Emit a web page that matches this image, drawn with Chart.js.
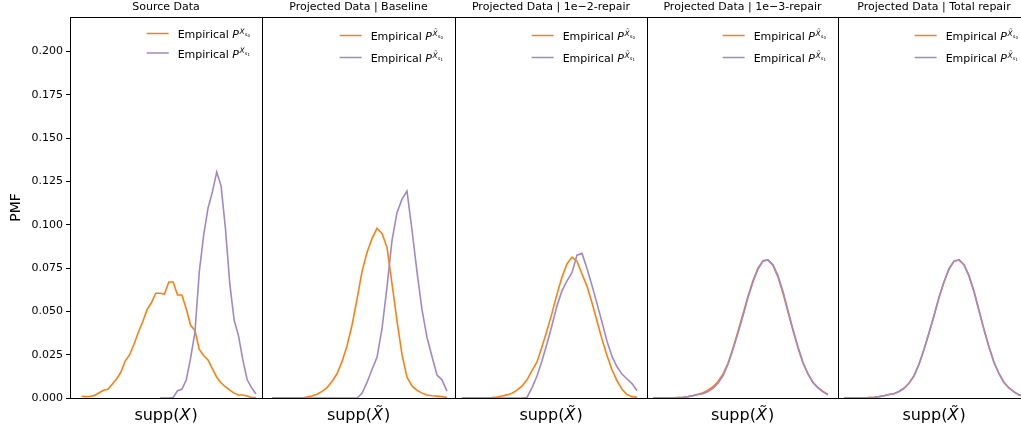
<!DOCTYPE html>
<html>
<head>
<meta charset="utf-8">
<script src="https://cdn.jsdelivr.net/npm/chart.js@4.4.1/dist/chart.umd.min.js"></script>
<style>
    html, body { margin: 0; padding: 0; background: #fff; overflow: hidden; width: 1021px; height: 427px; }
    canvas { position: absolute; left: 0; top: 0; }
</style>
</head>
<body>
<div id="wrap"></div>
<script>
// ===== data =====
const panelTitles = ['Source Data', 'Projected Data | Baseline', 'Projected Data | 1e\u22122-repair',
    'Projected Data | 1e\u22123-repair', 'Projected Data | Total repair'];
const yTicks = [0, 0.025, 0.05, 0.075, 0.1, 0.125, 0.15, 0.175, 0.2];
const yMax = 0.22;

// support range of each panel (bin units) and first bin of each series
const suppMax = [44.1, 38.6, 38.4, 38.2, 38.4];
const startS0 = [2.7, 2.0, 1.4, 1.2, 1.2];
const startS1 = [20.7, 2.0, 1.4, 1.2, 1.2];

const srcS0 = [0.001, 0.0008, 0.001, 0.0015, 0.003, 0.0045, 0.005, 0.008, 0.011, 0.015, 0.0215, 0.025, 0.031,
    0.038, 0.044, 0.051, 0.055, 0.0605, 0.0605, 0.060, 0.067, 0.067, 0.0595, 0.0595, 0.0515, 0.042, 0.039,
    0.028, 0.0245, 0.022, 0.017, 0.012, 0.0088, 0.0065, 0.0045, 0.0028, 0.0017, 0.0017, 0.0012, 0.0003, 0.0002];
const srcS1 = [0, 0, 0, 0.0003, 0.0042, 0.005, 0.0104, 0.023, 0.038, 0.073, 0.094, 0.1096, 0.119, 0.1305,
    0.1225, 0.098, 0.066, 0.045, 0.036, 0.022, 0.0105, 0.006, 0.0025];

const baseS0 = [0, 0, 0, 0, 0, 0, 0, 0.0005, 0.0012, 0.0022, 0.0038, 0.006, 0.0095, 0.014, 0.021, 0.03, 0.042,
    0.057, 0.073, 0.084, 0.092, 0.098, 0.095, 0.087, 0.066, 0.0445, 0.025, 0.012, 0.007, 0.0045, 0.0028, 0.0017,
    0.0013, 0.0011, 0.0008, 0.0003];
const baseS1 = [0, 0, 0, 0, 0, 0, 0, 0, 0, 0, 0, 0, 0, 0, 0, 0, 0, 0, 0.0027, 0.009, 0.0165, 0.0235, 0.04,
    0.064, 0.091, 0.107, 0.1148, 0.1195, 0.097, 0.0728, 0.051, 0.035, 0.024, 0.0133, 0.0105, 0.004];

const rep2S0 = [0, 0, 0, 0, 0, 0, 0.0002, 0.0005, 0.0012, 0.0018, 0.0028, 0.0045, 0.0068, 0.0105, 0.0158,
    0.0208, 0.0296, 0.039, 0.049, 0.060, 0.0698, 0.0775, 0.0813, 0.079, 0.0716, 0.0646, 0.055, 0.0445, 0.034,
    0.0246, 0.0163, 0.0101, 0.005, 0.002, 0.0008, 0.0004];
const rep2S1 = [0, 0, 0, 0, 0, 0, 0, 0, 0, 0, 0, 0, 0, 0.0003, 0.006, 0.0127, 0.0215, 0.0313, 0.042, 0.0533,
    0.062, 0.0676, 0.0724, 0.0825, 0.0835, 0.0748, 0.065, 0.0545, 0.0437, 0.0328, 0.024, 0.018, 0.0138, 0.011,
    0.0083, 0.0042];

const rep3S0 = [0, 0, 0, 0, 0, 0.0002, 0.0004, 0.0008, 0.0014, 0.0021, 0.003, 0.0045, 0.0065, 0.0095, 0.0138,
    0.02, 0.0288, 0.0385, 0.0485, 0.0588, 0.0678, 0.075, 0.0793, 0.0797, 0.0765, 0.0698, 0.0605, 0.0497, 0.039,
    0.029, 0.0202, 0.0138, 0.009, 0.006, 0.0038, 0.002];
const rep3S1 = [0, 0, 0, 0, 0, 0.0002, 0.0004, 0.0008, 0.0013, 0.002, 0.0025, 0.0038, 0.0056, 0.0085, 0.0128,
    0.0195, 0.028, 0.0375, 0.0475, 0.058, 0.067, 0.0745, 0.079, 0.0798, 0.077, 0.0705, 0.0615, 0.0505, 0.0395,
    0.0295, 0.0205, 0.014, 0.009, 0.0058, 0.0035, 0.0018];

const totS0 = [0, 0, 0, 0, 0, 0.0002, 0.0004, 0.0008, 0.0013, 0.002, 0.0025, 0.0038, 0.0056, 0.0085, 0.0128,
    0.0195, 0.028, 0.0375, 0.0475, 0.058, 0.067, 0.0745, 0.079, 0.0798, 0.077, 0.0705, 0.0615, 0.0505, 0.0395,
    0.0295, 0.0205, 0.014, 0.009, 0.0058, 0.0035, 0.0018, 0.0012];
const totS1 = [0, 0, 0, 0, 0, 0.0002, 0.0004, 0.0008, 0.0013, 0.002, 0.0025, 0.0038, 0.0056, 0.0085, 0.0128,
    0.0195, 0.028, 0.0375, 0.0475, 0.058, 0.067, 0.0745, 0.079, 0.0798, 0.077, 0.0705, 0.0615, 0.0505, 0.0395,
    0.0295, 0.0205, 0.014, 0.009, 0.0058, 0.0035, 0.0018, 0.0012];

const seriesS0 = [srcS0, baseS0, rep2S0, rep3S0, totS0];
const seriesS1 = [srcS1, baseS1, rep2S1, rep3S1, totS1];

// ===== layout / style =====
const W = 1040, H = 427;
const edges = [70, 262, 455, 647, 838, 1030];
const FONT = "'DejaVu Sans', sans-serif";
const ORANGE = '#ff7f0e';
const PURPLE = '#9f88cb';

function drawParts(ctx, parts, x, y) {
    parts.forEach(p => {
        ctx.font = p.f;
        ctx.fillText(p.t, x + (p.dx || 0), y + p.dy);
        x += ctx.measureText(p.t).width + (p.dx || 0);
    });
}

function partsWidth(ctx, parts) {
    let w = 0;
    parts.forEach(p => { ctx.font = p.f; w += ctx.measureText(p.t).width + (p.dx || 0); });
    return w;
}

const decor = {
    id: 'decor',
    afterDraw(chart, args, o) {
        const { ctx, chartArea: a } = chart;
        const tilde = o.idx > 0;
        ctx.save();

        // frame
        ctx.strokeStyle = '#000';
        ctx.lineWidth = 1;
        ctx.strokeRect(Math.round(a.left) + 0.5, Math.round(a.top) + 0.5,
            Math.round(a.right - a.left), Math.round(a.bottom - a.top));

        ctx.fillStyle = '#000';
        ctx.textBaseline = 'alphabetic';
        const cx = (a.left + a.right) / 2;

        // title
        ctx.font = `11px ${FONT}`;
        ctx.textAlign = 'center';
        ctx.fillText(o.title, cx, 10);

        // legend
        ctx.textAlign = 'left';
        const rows = tilde ? [35.5, 57.5] : [33.5, 53];
        [[ORANGE, '0'], [PURPLE, '1']].forEach(([col, sub], k) => {
            const ly = rows[k];
            const parts = [
                { t: 'Empirical ', f: `11px ${FONT}`, dy: 0 },
                { t: 'P', f: `italic 11px ${FONT}`, dy: 0 },
                { t: tilde ? 'X\u0303' : 'X', f: `italic 7.5px ${FONT}`, dy: -4.5, dx: 0.5 },
                { t: 's', f: `italic 5px ${FONT}`, dy: -2.5, dx: 0.3 },
                { t: sub, f: `4px ${FONT}`, dy: -1.5 }
            ];
            const tw = partsWidth(ctx, parts);
            const tx = a.right - 12 - tw;
            ctx.strokeStyle = col;
            ctx.lineWidth = 1.5;
            ctx.beginPath();
            ctx.moveTo(tx - 31, ly);
            ctx.lineTo(tx - 9, ly);
            ctx.stroke();
            ctx.fillStyle = '#000';
            drawParts(ctx, parts, tx, ly + 4.5);
        });

        // x label
        const lab = [
            { t: 'supp(', f: `16px ${FONT}`, dy: 0 },
            { t: tilde ? 'X\u0303' : 'X', f: `italic 16px ${FONT}`, dy: 0 },
            { t: ')', f: `16px ${FONT}`, dy: 0, dx: 1 }
        ];
        const lw = partsWidth(ctx, lab);
        drawParts(ctx, lab, cx - lw / 2, 420);
        ctx.restore();
    }
};

const wrap = document.getElementById('wrap');

panelTitles.forEach((title, i) => {
    const canvas = document.createElement('canvas');
    canvas.width = W;
    canvas.height = H;
    wrap.appendChild(canvas);

    const s0 = seriesS0[i].map((v, k) => ({ x: startS0[i] + k, y: v }));
    const s1 = seriesS1[i].map((v, k) => ({ x: startS1[i] + k, y: v }));

    const yScale = {
        display: i === 0,
        min: 0,
        max: yMax,
        afterBuildTicks: s => { s.ticks = yTicks.map(v => ({ value: v })); },
        ticks: {
            callback: v => Number(v).toFixed(3),
            font: { family: FONT, size: 11 },
            color: '#000',
            padding: 3
        },
        grid: { drawOnChartArea: false, tickLength: 4, color: '#000' },
        border: { display: false },
        title: {
            display: true,
            text: 'PMF',
            font: { family: FONT, size: 14 },
            color: '#000',
            padding: { top: 8, bottom: 0 }
        }
    };
    if (i === 0) yScale.afterFit = s => { s.width = 70; };

    new Chart(canvas.getContext('2d'), {
        type: 'line',
        data: {
            datasets: [
                { data: s0, order: 2, borderColor: ORANGE, borderWidth: 1.6, pointRadius: 0, tension: 0, fill: false },
                { data: s1, order: 1, borderColor: PURPLE, borderWidth: 1.6, pointRadius: 0, tension: 0, fill: false }
            ]
        },
        options: {
            responsive: false,
            animation: false,
            layout: {
                padding: { left: i === 0 ? 0 : edges[i], right: W - edges[i + 1], top: 17, bottom: 29 }
            },
            plugins: {
                legend: { display: false },
                tooltip: { enabled: false },
                decor: { idx: i, title: title }
            },
            scales: {
                x: { type: 'linear', display: false, min: 0, max: suppMax[i] },
                y: yScale
            }
        },
        plugins: [decor]
    });
});
</script>
</body>
</html>
